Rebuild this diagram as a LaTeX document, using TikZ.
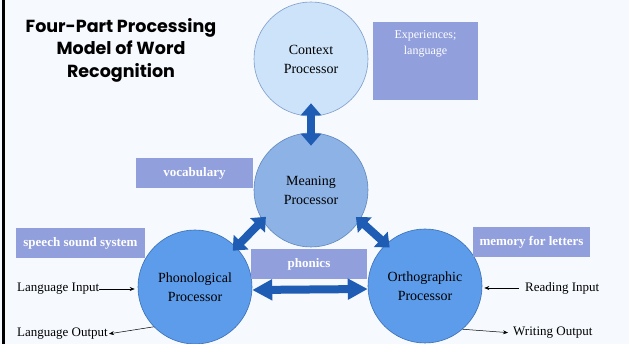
\documentclass[tikz,border=0pt]{standalone}
\usepackage{fontspec}
\setmainfont{Liberation Serif}
\newfontfamily\titlefont{Poppins}
\usetikzlibrary{arrows.meta}

\definecolor{pagebg}{HTML}{F6F9FD}
\definecolor{ctxfill}{HTML}{CCE3FA}
\definecolor{ctxline}{HTML}{7E9DC9}
\definecolor{meanfill}{HTML}{8DB3E6}
\definecolor{meanline}{HTML}{5F86BE}
\definecolor{procfill}{HTML}{5D9CEB}
\definecolor{procline}{HTML}{3A6FB3}
\definecolor{tagblue}{HTML}{919FDC}
\definecolor{fatblue}{HTML}{1F5CB4}

\begin{document}
\begin{tikzpicture}[x=1pt,y=-1pt,
  proc/.style={circle, line width=0.6pt, minimum size=114pt, inner sep=0pt,
    align=center, font=\fontsize{14}{19}\selectfont},
  tag/.style={fill=tagblue, text=white, inner sep=0pt, minimum height=30pt,
    font=\fontsize{13}{15}\selectfont\bfseries},
  fat/.style={draw=fatblue, line width=8pt,
    {Triangle[width=20pt,length=12pt]}-{Triangle[width=20pt,length=12pt]}},
  io/.style={-{Stealth[length=5pt,width=4pt]}, line width=0.5pt},
  lbl/.style={font=\fontsize{13}{15}\selectfont, inner sep=0pt}]

% page
\fill[pagebg] (0,0) rectangle (629,344);
\useasboundingbox (0,0) rectangle (629,344);
\draw[line width=2.5pt] (3.5,0) -- (3.5,344);

% title
\node[font=\titlefont\bfseries\fontsize{17.5}{22.5}\selectfont, align=center]
  (title) at (121,50) {Four-Part Processing\\Model of Word\\Recognition};

% processors
\node[proc, fill=ctxfill, draw=ctxline] (ctx) at (311,59) {Context\\Processor};
\node[proc, fill=meanfill, draw=meanline] (mean) at (311,190) {Meaning\\Processor};
\node[proc, fill=procfill, draw=procline] (phon) at (195,287) {Phonological\\Processor};
\node[proc, fill=procfill, draw=procline] (orth) at (425,286) {Orthographic\\Processor};

% tags
\node[tag, minimum width=105pt, minimum height=78pt] (exp) at (425.5,61) {};
\node[anchor=north, inner sep=0pt, text=white, align=center,
  font=\fontsize{12}{16}\selectfont] (exptext) at (425.5,30) {Experiences;\\language};
\node[tag, minimum width=117pt] (vocab) at (194.5,173) {vocabulary};
\node[tag, minimum width=129pt] (speech) at (80.5,243) {speech sound system};
\node[tag, minimum width=117pt] (letters) at (531.5,242.5) {memory for letters};
\node[tag, minimum width=116pt] (phonics) at (309,264) {phonics};

% links between processors
\draw[fat, shorten <=-13pt, shorten >=-13pt] (ctx.south) -- (mean.north);
\draw[fat, shorten <=-5pt, shorten >=-5pt] (phon.44) -- (mean.212);
\draw[fat, shorten <=-5pt, shorten >=-5pt] (mean.328) -- (orth.133);
\draw[fat, {Triangle[width=20pt,length=20pt]}-{Triangle[width=20pt,length=20pt]}]
  (phon.-3) -- (orth.183);

% inputs and outputs
\node[lbl, anchor=west] (lin) at (17,289) {Language Input};
\node[lbl, anchor=west] (lout) at (17,334) {Language Output};
\node[lbl, anchor=west] (rin) at (525,288) {Reading Input};
\node[lbl, anchor=west] (wout) at (513,333) {Writing Output};

\draw[io, shorten >=3pt] (lin.east) -- (lin.east -| phon.west);
\draw[io, shorten >=1pt] (phon.224) -- (lout.east);
\draw[io, shorten <=6pt, shorten >=2pt] (rin.west) -- (rin.west -| orth.east);
\draw[io, shorten >=5pt] (orth.311) -- (wout.west);
\end{tikzpicture}
\end{document}
